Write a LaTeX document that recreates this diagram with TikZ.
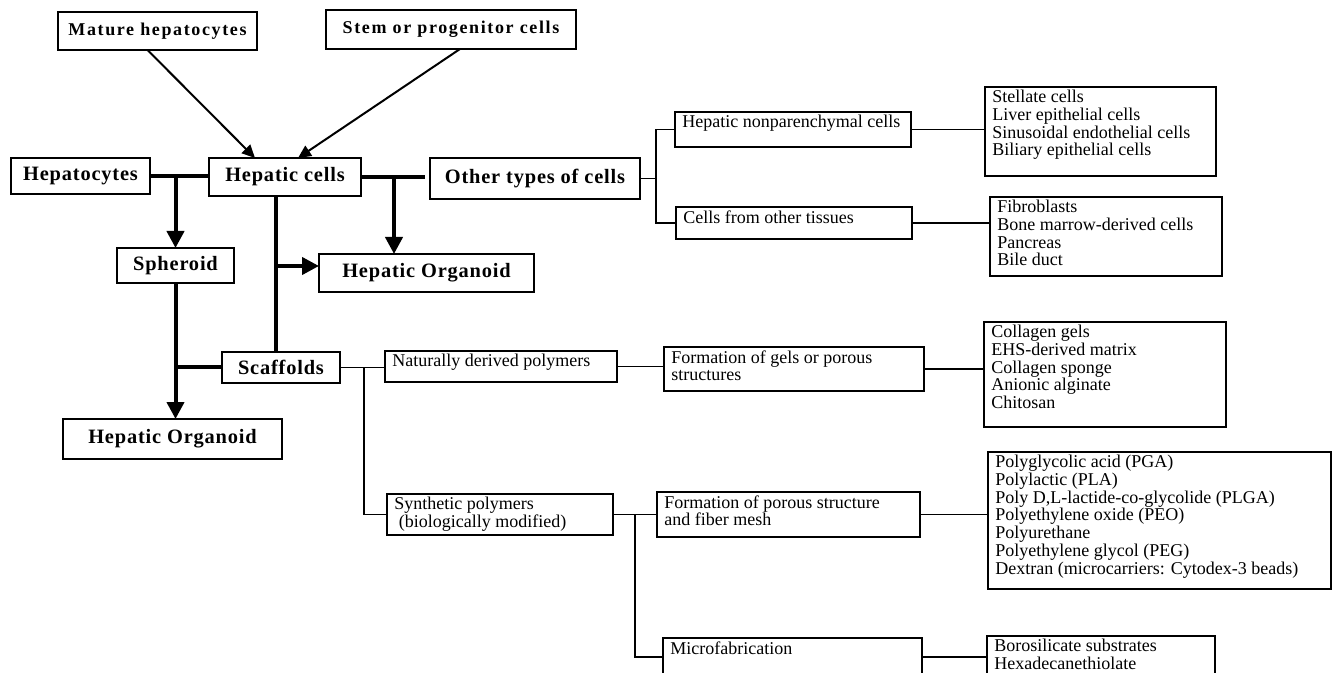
\documentclass[tikz,border=0pt]{standalone}
\usepackage{fontspec}
\setmainfont{Liberation Serif}
\newfontfamily\bwide[LetterSpace=4]{Liberation Serif}
\newfontfamily\bwider[LetterSpace=9]{Liberation Serif}
\usetikzlibrary{calc,arrows.meta}

\tikzset{
  sz/.style 2 args={minimum width=#1*0.5pt, minimum height=#2*0.5pt},
  bbox/.style={draw, line width=0.9pt, inner sep=0pt, outer sep=0pt, anchor=north west,
    font=\bwide\bfseries\fontsize{10.2}{11}\selectfont},
  tbox/.style={bbox, font=\bwider\bfseries\fontsize{9}{10}\selectfont},
  lbox/.style={draw, line width=0.8pt, inner sep=0pt, outer sep=0pt, anchor=north west},
  ltxt/.style={anchor=north west, inner xsep=3.5pt, inner ysep=1.5pt, align=left,
    font=\fontsize{9}{8.85}\selectfont},
  thk/.style={line width=2pt},
  thkarr/.style={thk, -{Triangle[length=8.5pt,width=8.5pt]}},
  thnarr/.style={line width=1pt, -{Triangle[length=6.5pt,width=6pt]}},
  thn/.style={line width=0.8pt},
}

\begin{document}
\begin{tikzpicture}[x=0.5pt, y=-0.5pt]
\useasboundingbox (0,0) rectangle (1332,673);

% left part: cells and organoids
\node[tbox, sz={199}{38}] (mat) at (58,12) {Mature hepatocytes};
\node[tbox, sz={250}{39}] (stem) at (326,10) {Stem or progenitor cells};
\node[bbox, sz={139}{36}] (hep) at (11,158) {Hepatocytes};
\node[bbox, sz={152}{38}] (hc) at (209,158) {Hepatic cells};
\node[bbox, sz={210}{41}] (oth) at (430,158) {Other types of cells};
\node[bbox, sz={117}{35}] (sph) at (117,248) {Spheroid};
\node[bbox, sz={215}{38}] (org1) at (319,254) {Hepatic Organoid};
\node[bbox, sz={118}{31}] (scf) at (222,352) {Scaffolds};
\node[bbox, sz={219}{40}] (org2) at (63,419) {Hepatic Organoid};

% right part: boxes with plain text
\node[lbox, sz={236}{35}] (hnp) at (675,112) {};
\node[lbox, sz={236}{32}] (cot) at (676,207) {};
\node[lbox, sz={231}{89}] (stl) at (985,87) {};
\node[lbox, sz={232}{79}] (fib) at (990,197) {};
\node[lbox, sz={232}{31}] (nat) at (385,351) {};
\node[lbox, sz={226}{41}] (syn) at (387,494) {};
\node[lbox, sz={260}{44}] (gel) at (664,347) {};
\node[lbox, sz={242}{105}] (col) at (984,322) {};
\node[lbox, sz={263}{45}] (por) at (657,492) {};
\node[lbox, sz={343}{137}] (ply) at (988,452) {};
\node[lbox, sz={259}{38}] (mic) at (663,638) {};
\node[lbox, sz={228}{42}] (bor) at (987,636) {};

\node[ltxt] (hnp-t) at (hnp.north west) {Hepatic nonparenchymal cells};
\node[ltxt] (cot-t) at (cot.north west) {Cells from other tissues};
\node[ltxt] (stl-t) at (stl.north west) {Stellate cells\\Liver epithelial cells\\Sinusoidal endothelial cells\\Biliary epithelial cells};
\node[ltxt] (fib-t) at (fib.north west) {Fibroblasts\\Bone marrow-derived cells\\Pancreas\\Bile duct};
\node[ltxt] (nat-t) at (nat.north west) {Naturally derived polymers};
\node[ltxt] (syn-t) at (syn.north west) {Synthetic polymers\\\ (biologically modified)};
\node[ltxt] (gel-t) at (gel.north west) {Formation of gels or porous\\structures};
\node[ltxt] (col-t) at (col.north west) {Collagen gels\\EHS-derived matrix\\Collagen sponge\\Anionic alginate\\Chitosan};
\node[ltxt] (por-t) at (por.north west) {Formation of porous structure\\and fiber mesh};
\node[ltxt] (ply-t) at (ply.north west) {Polyglycolic acid (PGA)\\Polylactic (PLA)\\Poly D,L-lactide-co-glycolide (PLGA)\\Polyethylene oxide (PEO)\\Polyurethane\\Polyethylene glycol (PEG)\\Dextran (microcarriers: Cytodex-3 beads)};
\node[ltxt] (mic-t) at (mic.north west) {Microfabrication};
\node[ltxt] (bor-t) at (bor.north west) {Borosilicate substrates\\Hexadecanethiolate};

% sources into hepatic cells
\draw[thnarr] ($(mat.south)+(-10,0)$) -- ($(hc.north)+(-30,0)$);
\draw[thnarr] ($(stem.south)+(9,0)$) -- ($(hc.north)+(13,0)$);

% thick connectors
\draw[thk] (hep.east) -- (hep.east -| hc.west);
\draw[thkarr] (sph.north |- hep.east) -- (sph.north);
\draw[thk] (hc.east) -- ($(hc.east -| oth.west)+(-5,0)$);
\coordinate (oa) at ($(org1.north west)+(75,0)$);
\draw[thkarr] (oa |- hc.east) -- (oa);
\coordinate (sp) at ($(scf.north)+(-5,0)$);
\draw[thk] (sp |- hc.south) -- (sp);
\coordinate (oi) at ($(org1.west)+(0,-7)$);
\draw[thkarr] (oi -| sp) -- (oi);
\draw[thkarr] (sph.south) -- (sph.south |- org2.north);
\draw[thk] (scf.west) -- (scf.west -| sph.south);

% other types of cells
\coordinate (brk) at ($(oth.east)+(16,0)$);
\draw[thn] (oth.east) -- (brk);
\draw[thn] (hnp.west) -| (brk) |- (cot.west);
\draw[thn] (hnp.east) -- (hnp.east -| stl.west);
\draw[thn] (cot.east) -- (cot.east -| fib.west);

% scaffolds
\coordinate (sj) at ($(scf.east)+(24,0)$);
\draw[thn] (scf.east) -- (scf.east -| nat.west);
\draw[thn] (sj) |- (syn.west);
\draw[thn] (nat.east) -- (nat.east -| gel.west);
\draw[thn] (gel.east) -- (gel.east -| col.west);
\draw[thn] (syn.east) -- (por.west);
\draw[thn] ($(syn.east)!0.5!(por.west)$) |- (mic.west);
\draw[thn] (por.east) -- (por.east -| ply.west);
\draw[thn] (mic.east) -- (mic.east -| bor.west);
\end{tikzpicture}
\end{document}
